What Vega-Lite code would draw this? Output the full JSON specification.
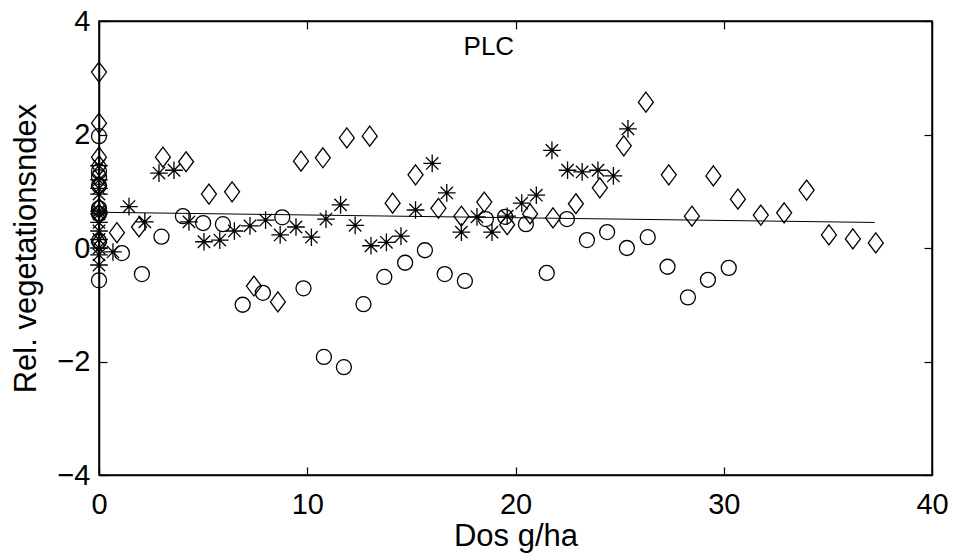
{
  "$schema": "https://vega.github.io/schema/vega-lite/v6.json",
  "width": 833,
  "height": 454,
  "autosize": {"type": "none"},
  "padding": {"left": 99, "top": 21, "right": 23, "bottom": 85},
  "background": "white",
  "config": {
    "view": {"stroke": "black", "strokeWidth": 1.5},
    "axis": {
      "grid": false,
      "domainColor": "black",
      "domainWidth": 1.5,
      "tickColor": "black",
      "tickWidth": 1.2,
      "labelFont": "Liberation Sans",
      "labelFontSize": 29,
      "labelColor": "black",
      "titleFont": "Liberation Sans",
      "titleFontSize": 31,
      "titleFontWeight": "normal",
      "titleColor": "black",
      "labelFlush": false,
      "labelOverlap": false
    }
  },
  "datasets": {
    "points": [
      {"dose": 0, "value": 3.1, "series": "A"},
      {"dose": 0, "value": 2.2, "series": "A"},
      {"dose": 0, "value": 1.6, "series": "A"},
      {"dose": 0, "value": 1.45, "series": "A"},
      {"dose": 0, "value": 1.1, "series": "A"},
      {"dose": 0, "value": 0.7, "series": "A"},
      {"dose": 0, "value": 0.6, "series": "A"},
      {"dose": 0, "value": 0.1, "series": "A"},
      {"dose": 0.86, "value": 0.27, "series": "A"},
      {"dose": 1.92, "value": 0.37, "series": "A"},
      {"dose": 3.07, "value": 1.6, "series": "A"},
      {"dose": 4.18, "value": 1.52, "series": "A"},
      {"dose": 5.28, "value": 0.95, "series": "A"},
      {"dose": 6.39, "value": 0.99, "series": "A"},
      {"dose": 7.44, "value": -0.67, "series": "A"},
      {"dose": 8.59, "value": -0.95, "series": "A"},
      {"dose": 9.7, "value": 1.53, "series": "A"},
      {"dose": 10.75, "value": 1.59, "series": "A"},
      {"dose": 11.9, "value": 1.94, "series": "A"},
      {"dose": 13.0, "value": 1.97, "series": "A"},
      {"dose": 14.1, "value": 0.79, "series": "A"},
      {"dose": 15.2, "value": 1.29, "series": "A"},
      {"dose": 16.3, "value": 0.7, "series": "A"},
      {"dose": 17.4, "value": 0.56, "series": "A"},
      {"dose": 18.5, "value": 0.81, "series": "A"},
      {"dose": 19.6, "value": 0.41, "series": "A"},
      {"dose": 20.7, "value": 0.6, "series": "A"},
      {"dose": 21.8, "value": 0.53, "series": "A"},
      {"dose": 22.9, "value": 0.78, "series": "A"},
      {"dose": 24.05, "value": 1.06, "series": "A"},
      {"dose": 25.2, "value": 1.8, "series": "A"},
      {"dose": 26.26, "value": 2.57, "series": "A"},
      {"dose": 27.36, "value": 1.29, "series": "A"},
      {"dose": 28.47, "value": 0.56, "series": "A"},
      {"dose": 29.5, "value": 1.27, "series": "A"},
      {"dose": 30.68, "value": 0.86, "series": "A"},
      {"dose": 31.78, "value": 0.58, "series": "A"},
      {"dose": 32.9, "value": 0.62, "series": "A"},
      {"dose": 33.98, "value": 1.02, "series": "A"},
      {"dose": 35.05, "value": 0.23, "series": "A"},
      {"dose": 36.2, "value": 0.16, "series": "A"},
      {"dose": 37.3, "value": 0.09, "series": "A"},
      {"dose": 0, "value": 1.45, "series": "B"},
      {"dose": 0, "value": 1.2, "series": "B"},
      {"dose": 0, "value": 1.05, "series": "B"},
      {"dose": 0, "value": 0.95, "series": "B"},
      {"dose": 0, "value": 0.65, "series": "B"},
      {"dose": 0, "value": 0.6, "series": "B"},
      {"dose": 0, "value": 0.45, "series": "B"},
      {"dose": 0, "value": 0.3, "series": "B"},
      {"dose": 0, "value": 0.15, "series": "B"},
      {"dose": 0, "value": 0.0, "series": "B"},
      {"dose": 0, "value": -0.12, "series": "B"},
      {"dose": 0, "value": -0.3, "series": "B"},
      {"dose": 0.67, "value": -0.07, "series": "B"},
      {"dose": 1.44, "value": 0.73, "series": "B"},
      {"dose": 2.2, "value": 0.46, "series": "B"},
      {"dose": 2.88, "value": 1.32, "series": "B"},
      {"dose": 3.6, "value": 1.37, "series": "B"},
      {"dose": 4.32, "value": 0.46, "series": "B"},
      {"dose": 5.04, "value": 0.11, "series": "B"},
      {"dose": 5.8, "value": 0.14, "series": "B"},
      {"dose": 6.5, "value": 0.3, "series": "B"},
      {"dose": 7.25, "value": 0.39, "series": "B"},
      {"dose": 8.0, "value": 0.49, "series": "B"},
      {"dose": 8.7, "value": 0.23, "series": "B"},
      {"dose": 9.46, "value": 0.37, "series": "B"},
      {"dose": 10.2, "value": 0.19, "series": "B"},
      {"dose": 10.9, "value": 0.51, "series": "B"},
      {"dose": 11.6, "value": 0.76, "series": "B"},
      {"dose": 12.3, "value": 0.4, "series": "B"},
      {"dose": 13.06, "value": 0.04, "series": "B"},
      {"dose": 13.8, "value": 0.1, "series": "B"},
      {"dose": 14.5, "value": 0.21, "series": "B"},
      {"dose": 15.2, "value": 0.67, "series": "B"},
      {"dose": 16.0, "value": 1.49, "series": "B"},
      {"dose": 16.7, "value": 0.97, "series": "B"},
      {"dose": 17.4, "value": 0.28, "series": "B"},
      {"dose": 18.15, "value": 0.55, "series": "B"},
      {"dose": 18.87, "value": 0.28, "series": "B"},
      {"dose": 19.6, "value": 0.56, "series": "B"},
      {"dose": 20.3, "value": 0.79, "series": "B"},
      {"dose": 21.0, "value": 0.93, "series": "B"},
      {"dose": 21.75, "value": 1.72, "series": "B"},
      {"dose": 22.5, "value": 1.37, "series": "B"},
      {"dose": 23.2, "value": 1.34, "series": "B"},
      {"dose": 23.96, "value": 1.37, "series": "B"},
      {"dose": 24.7, "value": 1.27, "series": "B"},
      {"dose": 25.4, "value": 2.1, "series": "B"},
      {"dose": 0, "value": 1.97, "series": "C"},
      {"dose": 0, "value": 1.35, "series": "C"},
      {"dose": 0, "value": 1.25, "series": "C"},
      {"dose": 0, "value": 1.1, "series": "C"},
      {"dose": 0, "value": 0.7, "series": "C"},
      {"dose": 0, "value": 0.6, "series": "C"},
      {"dose": 0, "value": 0.12, "series": "C"},
      {"dose": 0, "value": -0.57, "series": "C"},
      {"dose": 1.1, "value": -0.09, "series": "C"},
      {"dose": 2.06, "value": -0.46, "series": "C"},
      {"dose": 3.0, "value": 0.2, "series": "C"},
      {"dose": 4.03, "value": 0.56, "series": "C"},
      {"dose": 5.0, "value": 0.44, "series": "C"},
      {"dose": 5.95, "value": 0.42, "series": "C"},
      {"dose": 6.9, "value": -1.0, "series": "C"},
      {"dose": 7.87, "value": -0.79, "series": "C"},
      {"dose": 8.8, "value": 0.54, "series": "C"},
      {"dose": 9.82, "value": -0.71, "series": "C"},
      {"dose": 10.8, "value": -1.92, "series": "C"},
      {"dose": 11.76, "value": -2.1, "series": "C"},
      {"dose": 12.7, "value": -0.99, "series": "C"},
      {"dose": 13.7, "value": -0.51, "series": "C"},
      {"dose": 14.7, "value": -0.26, "series": "C"},
      {"dose": 15.65, "value": -0.04, "series": "C"},
      {"dose": 16.6, "value": -0.46, "series": "C"},
      {"dose": 17.57, "value": -0.58, "series": "C"},
      {"dose": 18.58, "value": 0.51, "series": "C"},
      {"dose": 19.5, "value": 0.55, "series": "C"},
      {"dose": 20.5, "value": 0.42, "series": "C"},
      {"dose": 21.5, "value": -0.44, "series": "C"},
      {"dose": 22.47, "value": 0.51, "series": "C"},
      {"dose": 23.43, "value": 0.14, "series": "C"},
      {"dose": 24.4, "value": 0.28, "series": "C"},
      {"dose": 25.35, "value": 0.0, "series": "C"},
      {"dose": 26.35, "value": 0.19, "series": "C"},
      {"dose": 27.3, "value": -0.33, "series": "C"},
      {"dose": 28.28, "value": -0.87, "series": "C"},
      {"dose": 29.24, "value": -0.56, "series": "C"},
      {"dose": 30.24, "value": -0.35, "series": "C"}
    ],
    "fit": [
      {"dose": 0, "value": 0.63},
      {"dose": 37.25, "value": 0.45}
    ],
    "label": [
      {"dose": 18.72, "value": 3.55, "text": "PLC"}
    ]
  },
  "resolve": {"axis": {"x": "independent", "y": "independent"}},
  "layer": [
    {
      "data": {"name": "points"},
      "mark": {"type": "point", "filled": false, "stroke": "black", "strokeWidth": 1.3, "opacity": 1},
      "encoding": {
        "x": {
          "field": "dose", "type": "quantitative",
          "scale": {"domain": [0, 40], "nice": false, "zero": false},
          "axis": {
            "orient": "bottom", "values": [0, 10, 20, 30, 40], "tickSize": -8,
            "labelPadding": 23, "title": "Dos g/ha",
            "titleX": 416.5, "titleY": 46, "titleBaseline": "top", "titleAlign": "center"
          }
        },
        "y": {
          "field": "value", "type": "quantitative",
          "scale": {"domain": [-4, 4], "nice": false, "zero": false},
          "axis": {
            "orient": "left", "values": [-4, -2, 0, 2, 4], "tickSize": -8,
            "labelPadding": 17, "title": "Rel. vegetationsndex",
            "titleX": -57, "titleY": 227, "titleAngle": -90, "titleAlign": "center", "titleBaseline": "bottom"
          }
        },
        "shape": {
          "field": "series", "type": "nominal",
          "scale": {
            "domain": ["A", "B", "C"],
            "range": [
              "M0,-1L0.75,0L0,1L-0.75,0Z",
              "M0,-1L0,1M-1,0L1,0M-0.7,-0.7L0.7,0.7M-0.7,0.7L0.7,-0.7",
              "circle"
            ]
          },
          "legend": null
        },
        "size": {
          "field": "series", "type": "nominal",
          "scale": {"domain": ["A", "B", "C"], "range": [400, 225, 201]},
          "legend": null
        }
      }
    },
    {
      "data": {"name": "fit"},
      "mark": {"type": "line", "color": "black", "strokeWidth": 1},
      "encoding": {
        "x": {
          "field": "dose", "type": "quantitative",
          "scale": {"domain": [0, 40], "nice": false, "zero": false},
          "axis": {"orient": "top", "values": [0, 10, 20, 30, 40], "tickSize": -8, "labels": false, "title": null}
        },
        "y": {
          "field": "value", "type": "quantitative",
          "scale": {"domain": [-4, 4], "nice": false, "zero": false},
          "axis": {"orient": "right", "values": [-4, -2, 0, 2, 4], "tickSize": -8, "labels": false, "title": null}
        }
      }
    },
    {
      "data": {"name": "label"},
      "mark": {"type": "text", "font": "Liberation Sans", "fontSize": 26, "color": "black", "align": "center", "baseline": "middle"},
      "encoding": {
        "x": {"field": "dose", "type": "quantitative", "scale": {"domain": [0, 40], "nice": false, "zero": false}, "axis": null},
        "y": {"field": "value", "type": "quantitative", "scale": {"domain": [-4, 4], "nice": false, "zero": false}, "axis": null},
        "text": {"field": "text", "type": "nominal"}
      }
    }
  ]
}
